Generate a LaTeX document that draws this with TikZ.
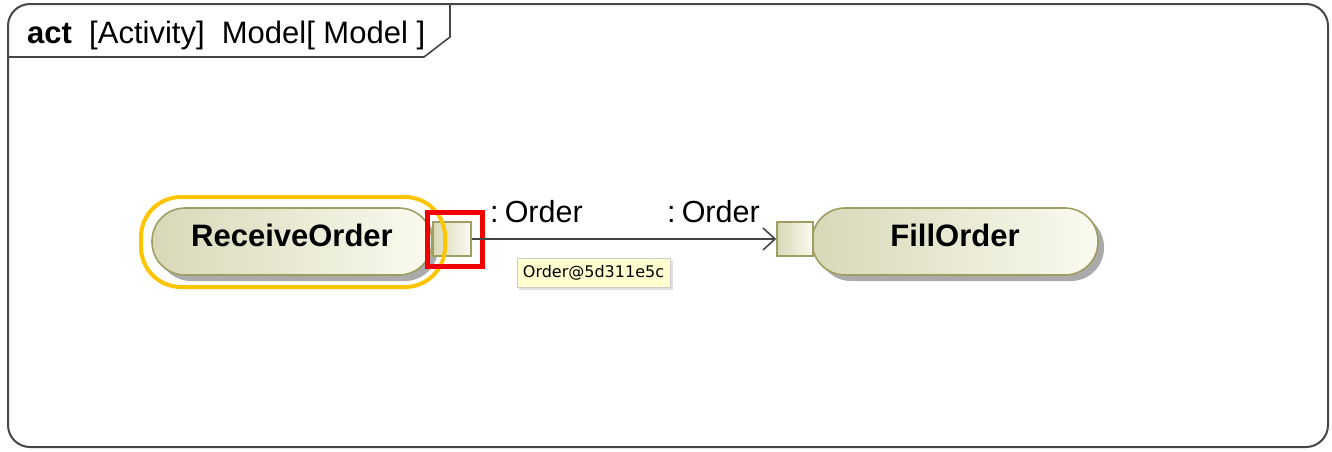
\documentclass[tikz,border=0pt]{standalone}
\usepackage{fontspec}
\setmainfont{Liberation Sans}
\newfontfamily\tipfont{DejaVu Sans}
\usetikzlibrary{arrows.meta,shadows}
\definecolor{frameline}{RGB}{70,70,70}
\definecolor{olive}{RGB}{158,158,98}
\definecolor{actleft}{RGB}{216,216,184}
\definecolor{actright}{RGB}{250,250,240}
\definecolor{selyellow}{RGB}{255,196,0}
\definecolor{selred}{RGB}{240,0,0}
\definecolor{tipfill}{RGB}{255,255,208}
\definecolor{shadowgray}{RGB}{170,170,170}
\definecolor{edgegray}{RGB}{68,68,68}
\tikzset{
  actbox/.style={draw=olive, line width=1.6pt, rounded corners=33pt,
    left color=actleft, right color=actright, minimum height=67pt, inner sep=0pt,
    font=\fontsize{31}{33}\selectfont\bfseries},
  actshadow/.style={fill=shadowgray, rounded corners=33pt},
  pinbox/.style={draw=olive, line width=1.6pt, left color=actleft, right color=actright,
    minimum width=36pt, minimum height=34pt, inner sep=0pt},
  lbl/.style={font=\fontsize{30.5}{32}\selectfont, inner sep=0pt},
  flow/.style={draw=edgegray, line width=1.6pt, -{Straight Barb[length=12pt,width=22pt,line width=1.6pt]}},
}
\begin{document}
\begin{tikzpicture}[x=1pt,y=-1pt]
\useasboundingbox (0,0) rectangle (1332,451);
% frame
\draw[frameline, line width=2pt, rounded corners=22pt] (8,4) rectangle (1328,447);
\draw[frameline, line width=1.6pt] (8,57) -- (424,57) -- (450,37) -- (450,4);
\node[anchor=base west, inner sep=0pt, font=\fontsize{31}{33}\selectfont] (title) at (27,43)
  {\textbf{act} \ [Activity] \ Model[ Model ]};
% shadows
\fill[actshadow] (158,214) rectangle (438,281);
\fill[actshadow] (818,214) rectangle (1104,281);
% actions
\node[actbox, minimum width=280pt] (recv) at (292,241.5) {\raisebox{13pt}{ReceiveOrder}};
\node[actbox, minimum width=286pt] (fill) at (955,241.5) {\raisebox{13pt}{FillOrder}};
% pins
\node[pinbox, minimum width=38pt] (opin) at (452,239) {};
\node[pinbox] (ipin) at (795,239) {};
% selection marks
\draw[selyellow, line width=4pt, rounded corners=40pt] (141,197) rectangle (445,287);
\draw[selred, line width=5pt] (427,212) rectangle (482,266);
% edge
\draw[flow] (opin.east) -- (ipin.west);
\node[lbl, anchor=base west] (l1) at (490,222) {:\hspace{0.2em}Order};
\node[lbl, anchor=base west] (l2) at (667,222) {:\hspace{0.2em}Order};
% tooltip
\fill[black!12] (519,261) rectangle (673,290);
\node[draw=black!20, fill=tipfill, line width=0.8pt, minimum width=153pt, minimum height=29pt,
  inner sep=0pt, font=\tipfont\fontsize{16}{18}\selectfont] (tip) at (593.5,272.5) {Order@5d311e5c};
\end{tikzpicture}
\end{document}
